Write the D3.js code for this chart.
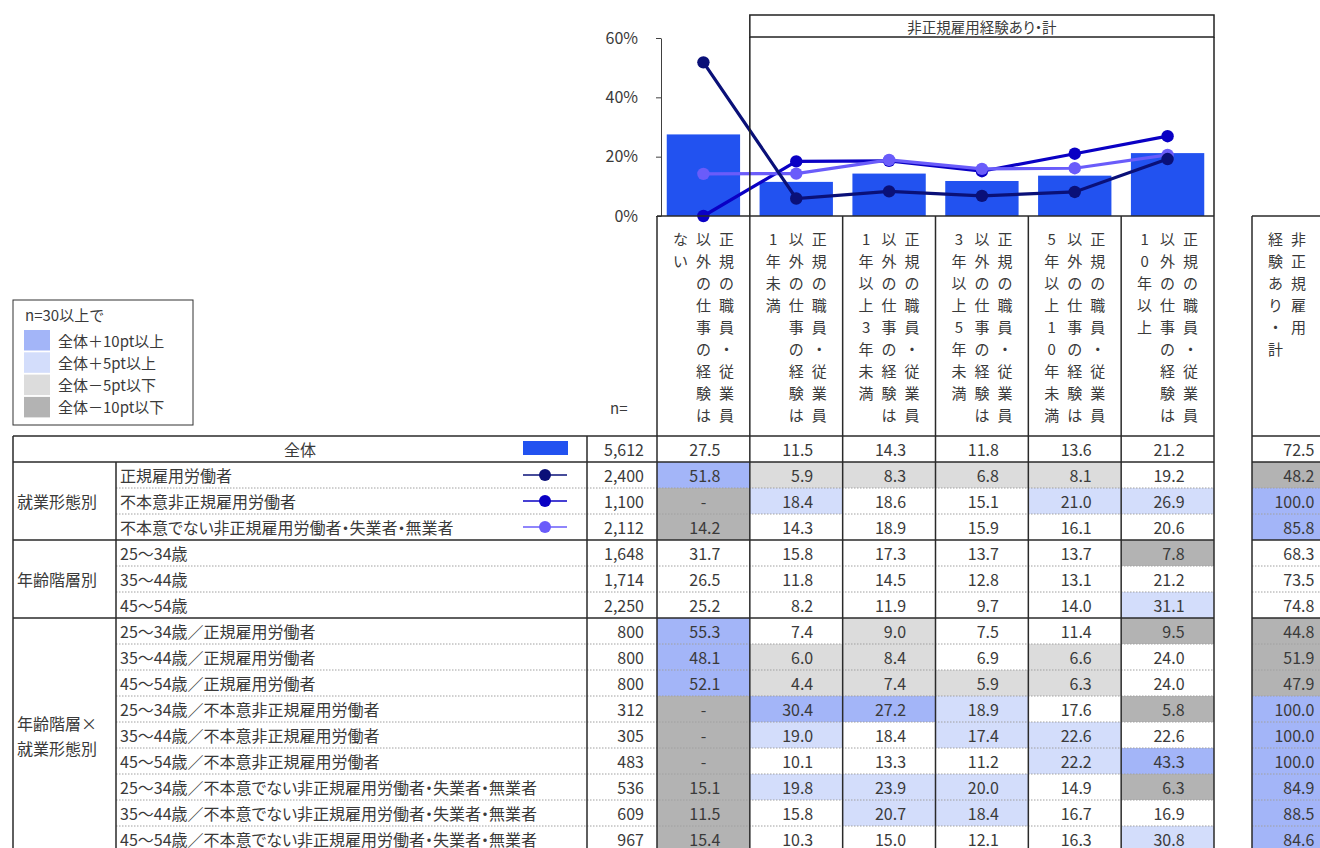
<!DOCTYPE html>
<html>
<head>
<meta charset="utf-8">
<script src="https://cdn.jsdelivr.net/npm/d3@7"></script>
<style>
  body { margin: 0; background: #fff; }
  text { font-family: "Noto Sans CJK JP", "Noto Sans", sans-serif; fill: #3a3a3a; }
  .palt { font-feature-settings: "palt"; }
</style>
</head>
<body>
<div id="chart"></div>
<script>
// column headers, vertical text, columns listed right to left
var colHeaders = [
  ["正規の職員・従業員", "以外の仕事の経験は", "ない"],
  ["正規の職員・従業員", "以外の仕事の経験は", "1年未満"],
  ["正規の職員・従業員", "以外の仕事の経験は", "1年以上3年未満"],
  ["正規の職員・従業員", "以外の仕事の経験は", "3年以上5年未満"],
  ["正規の職員・従業員", "以外の仕事の経験は", "5年以上10年未満"],
  ["正規の職員・従業員", "以外の仕事の経験は", "10年以上"]
];
var totalHeader = ["非正規雇用", "経験あり・計"];
var spanTitle = "非正規雇用経験あり・計";

var groupNames = ["就業形態別", "年齢階層別", "年齢階層×\n就業形態別"];
var groupSizes = [3, 3, 9];

var rowLabels = [
  "全体",
  "正規雇用労働者",
  "不本意非正規雇用労働者",
  "不本意でない非正規雇用労働者・失業者・無業者",
  "25～34歳",
  "35～44歳",
  "45～54歳",
  "25～34歳／正規雇用労働者",
  "35～44歳／正規雇用労働者",
  "45～54歳／正規雇用労働者",
  "25～34歳／不本意非正規雇用労働者",
  "35～44歳／不本意非正規雇用労働者",
  "45～54歳／不本意非正規雇用労働者",
  "25～34歳／不本意でない非正規雇用労働者・失業者・無業者",
  "35～44歳／不本意でない非正規雇用労働者・失業者・無業者",
  "45～54歳／不本意でない非正規雇用労働者・失業者・無業者"
];
var nValues = [5612, 2400, 1100, 2112, 1648, 1714, 2250, 800, 800, 800, 312, 305, 483, 536, 609, 967];

// null = "-"
var values = [
  [27.5, 11.5, 14.3, 11.8, 13.6, 21.2],
  [51.8, 5.9, 8.3, 6.8, 8.1, 19.2],
  [null, 18.4, 18.6, 15.1, 21.0, 26.9],
  [14.2, 14.3, 18.9, 15.9, 16.1, 20.6],
  [31.7, 15.8, 17.3, 13.7, 13.7, 7.8],
  [26.5, 11.8, 14.5, 12.8, 13.1, 21.2],
  [25.2, 8.2, 11.9, 9.7, 14.0, 31.1],
  [55.3, 7.4, 9.0, 7.5, 11.4, 9.5],
  [48.1, 6.0, 8.4, 6.9, 6.6, 24.0],
  [52.1, 4.4, 7.4, 5.9, 6.3, 24.0],
  [null, 30.4, 27.2, 18.9, 17.6, 5.8],
  [null, 19.0, 18.4, 17.4, 22.6, 22.6],
  [null, 10.1, 13.3, 11.2, 22.2, 43.3],
  [15.1, 19.8, 23.9, 20.0, 14.9, 6.3],
  [11.5, 15.8, 20.7, 18.4, 16.7, 16.9],
  [15.4, 10.3, 15.0, 12.1, 16.3, 30.8]
];
var totals = [72.5, 48.2, 100.0, 85.8, 68.3, 73.5, 74.8, 44.8, 51.9, 47.9, 100.0, 100.0, 100.0, 84.9, 88.5, 84.6];

var lineRows = [2, 3, 1];   // drawing order
var lineColors = {1: "#0a1078", 2: "#0a00c4", 3: "#6a5cfa"};
var barColor = "#2252f0";

var tickValues = [0, 20, 40, 60];
var legendTitle = "n=30以上で";
var legendLabels = ["全体＋10pt以上", "全体＋5pt以上", "全体－5pt以下", "全体－10pt以下"];
var shadeColors = ["#a3b5f8", "#d3ddfb", "#dcdcdc", "#b3b3b3"];

var width = 1320, height = 848;
var svg = d3.select("#chart").append("svg")
  .attr("width", width).attr("height", height);

// layout
var tableTop = 436, rowH = 26;
var xLeft = 13, xGroup = 116, xLabel = 587, xN = 657;
var x = d3.scaleBand().domain(d3.range(6)).range([657, 1214]);
var step = x.step();
var xTot = 1252, xTotR = xTot + step;
var y = d3.scaleLinear().domain([0, 60]).range([216, 38]);
var rowY = d3.scaleBand().domain(d3.range(rowLabels.length))
  .range([tableTop, tableTop + rowLabels.length * rowH]);
var pitch = 23;

function shade(v, base) {
  var d = Math.round(((v == null ? 0 : v) - base) * 10) / 10;
  if (d >= 10) return shadeColors[0];
  if (d >= 5) return shadeColors[1];
  if (d <= -10) return shadeColors[3];
  if (d <= -5) return shadeColors[2];
  return null;
}
function fmt(v) { return v == null ? "-" : v.toFixed(1); }

// ---- chart ----
var yAxis = svg.append("g")
  .attr("transform", "translate(661,0)")
  .call(d3.axisLeft(y).tickValues(tickValues).tickSize(5).tickSizeOuter(0).tickPadding(18)
    .tickFormat(function(d) { return d + "%"; }));
yAxis.selectAll("text").style("font-size", "16px").style("fill", "#3a3a3a");
yAxis.selectAll("path, line").attr("stroke", "#404040");

// bars
svg.selectAll(".bar")
  .data(values[0])
  .enter().append("rect")
    .attr("x", function(d, i) { return x(i) + step * 0.105; })
    .attr("width", step * 0.79)
    .attr("y", function(d) { return y(d); })
    .attr("height", function(d) { return y(0) - y(d); })
    .attr("fill", barColor);

// lines
var line = d3.line()
  .x(function(d, i) { return x(i) + step / 2; })
  .y(function(d) { return y(d == null ? 0 : d); });

lineRows.forEach(function(r) {
  svg.append("path")
    .datum(values[r])
    .attr("d", line)
    .attr("fill", "none")
    .attr("stroke", lineColors[r])
    .attr("stroke-width", 3.2);
  svg.selectAll(".dot" + r)
    .data(values[r])
    .enter().append("circle")
      .attr("cx", function(d, i) { return x(i) + step / 2; })
      .attr("cy", function(d) { return y(d == null ? 0 : d); })
      .attr("r", 6.2)
      .attr("fill", lineColors[r]);
});

// span title box
svg.append("rect")
  .attr("x", x(1)).attr("y", 15)
  .attr("width", x(5) + step - x(1)).attr("height", 22)
  .attr("fill", "none").attr("stroke", "#222").attr("stroke-width", 1.5);
svg.append("text")
  .attr("class", "palt")
  .attr("x", (x(1) + x(5) + step) / 2).attr("y", 26)
  .attr("text-anchor", "middle").attr("dominant-baseline", "central")
  .style("font-size", "14.5px")
  .text(spanTitle);
[x(1), x(5) + step].forEach(function(xx) {
  svg.append("line").attr("x1", xx).attr("x2", xx).attr("y1", 37).attr("y2", 216)
    .attr("stroke", "#222").attr("stroke-width", 1.5);
});

// ---- column headers ----
function vertical(cx, cols, rightOffset) {
  cols.forEach(function(str, k) {
    Array.from(str).forEach(function(ch, r) {
      svg.append("text")
        .attr("x", cx + rightOffset - pitch * k)
        .attr("y", 238 + 22 * r)
        .attr("text-anchor", "middle").attr("dominant-baseline", "central")
        .style("font-size", "15px")
        .text(ch);
    });
  });
}
colHeaders.forEach(function(cols, i) { vertical(x(i) + step / 2, cols, pitch); });
vertical(xTot + step / 2, totalHeader, 0);

svg.append("text")
  .attr("x", 610).attr("y", 407)
  .attr("dominant-baseline", "central")
  .style("font-size", "15px")
  .text("n=");

// ---- legend ----
var lg = svg.append("g");
lg.append("rect").attr("x", 13).attr("y", 300).attr("width", 180).attr("height", 125)
  .attr("fill", "#fff").attr("stroke", "#333").attr("stroke-width", 1);
lg.append("text").attr("x", 25).attr("y", 314).attr("dominant-baseline", "central")
  .style("font-size", "15px").text(legendTitle);
legendLabels.forEach(function(t, i) {
  lg.append("rect").attr("x", 24).attr("y", 330 + i * 22.3).attr("width", 26).attr("height", 20.5)
    .attr("fill", shadeColors[i]);
  lg.append("text").attr("x", 58).attr("y", 340 + i * 22.3).attr("dominant-baseline", "central")
    .style("font-size", "15px").text(t);
});

// ---- table ----
var cols = d3.range(6);

// cell shading
rowLabels.forEach(function(lbl, r) {
  if (r === 0) return;
  cols.forEach(function(c) {
    var col = shade(values[r][c], values[0][c]);
    if (col) svg.append("rect").attr("x", x(c)).attr("y", rowY(r))
      .attr("width", step).attr("height", rowH).attr("fill", col);
  });
  var ct = shade(totals[r], totals[0]);
  if (ct) svg.append("rect").attr("x", xTot).attr("y", rowY(r))
    .attr("width", step).attr("height", rowH).attr("fill", ct);
});

// row texts
rowLabels.forEach(function(lbl, r) {
  var cy = rowY(r) + rowH / 2;
  if (r === 0) {
    svg.append("text").attr("x", (xLeft + xLabel) / 2).attr("y", cy)
      .attr("text-anchor", "middle").attr("dominant-baseline", "central")
      .style("font-size", "16px").text(lbl);
    svg.append("rect").attr("x", 523).attr("y", rowY(r) + 5).attr("width", 45).attr("height", 14)
      .attr("fill", barColor);
  } else {
    svg.append("text").attr("class", "palt").attr("x", 120).attr("y", cy)
      .attr("dominant-baseline", "central")
      .style("font-size", "16px").text(lbl);
  }
  if (lineColors[r]) {
    svg.append("line").attr("x1", 523).attr("x2", 567).attr("y1", cy).attr("y2", cy)
      .attr("stroke", lineColors[r]).attr("stroke-width", 1.5);
    svg.append("circle").attr("cx", 545).attr("cy", cy).attr("r", 6)
      .attr("fill", lineColors[r]);
  }
  svg.append("text").attr("x", 644).attr("y", cy)
    .attr("text-anchor", "end").attr("dominant-baseline", "central")
    .style("font-size", "16px").text(d3.format(",")(nValues[r]));
  cols.forEach(function(c) {
    var v = values[r][c];
    svg.append("text")
      .attr("x", v == null ? x(c) + step / 2 : x(c) + step / 2 + 17)
      .attr("y", cy)
      .attr("text-anchor", v == null ? "middle" : "end")
      .attr("dominant-baseline", "central")
      .style("font-size", "16px").text(fmt(v));
  });
  svg.append("text").attr("x", xTot + step / 2 + 16).attr("y", cy)
    .attr("text-anchor", "end").attr("dominant-baseline", "central")
    .style("font-size", "16px").text(fmt(totals[r]));
});

// group labels
var start = 1;
groupNames.forEach(function(g, gi) {
  var top = rowY(start), bottom = top + groupSizes[gi] * rowH;
  var lines = g.split("\n");
  lines.forEach(function(t, li) {
    svg.append("text").attr("x", 17)
      .attr("y", (top + bottom) / 2 + (li - (lines.length - 1) / 2) * 25)
      .attr("dominant-baseline", "central")
      .style("font-size", "16px").text(t);
  });
  start += groupSizes[gi];
});

// grid lines
var solid = "#2a2a2a";
function hline(y0, x1, x2, dotted) {
  svg.append("line").attr("x1", x1).attr("x2", x2).attr("y1", y0).attr("y2", y0)
    .attr("stroke", dotted ? "#a0a0a0" : solid)
    .attr("stroke-width", dotted ? 1 : 1.5)
    .attr("stroke-dasharray", dotted ? "1.5,1.5" : null);
}
function vline(x0, y1, y2) {
  svg.append("line").attr("x1", x0).attr("x2", x0).attr("y1", y1).attr("y2", y2)
    .attr("stroke", solid).attr("stroke-width", 1.5);
}

var groupEnds = [1];
groupSizes.forEach(function(s) { groupEnds.push(groupEnds[groupEnds.length - 1] + s); });
rowLabels.forEach(function(lbl, r) {
  if (r === 0) return;
  var yy = rowY(r);
  if (groupEnds.indexOf(r) >= 0) {
    hline(yy, xLeft, x(5) + step); hline(yy, xTot, xTotR);
  } else {
    hline(yy, xGroup, x(5) + step, true); hline(yy, xTot, xTotR, true);
  }
});
hline(216, xN, x(5) + step); hline(216, xTot, xTotR);
hline(tableTop, xLeft, x(5) + step); hline(tableTop, xTot, xTotR);

vline(xLeft, tableTop, height);
vline(xGroup, rowY(1), height);
vline(xLabel, tableTop, height);
cols.forEach(function(c) { vline(x(c), 216, height); });
vline(x(5) + step, 216, height);
vline(xTot, 216, height);
vline(xTotR, 216, height);
</script>
</body>
</html>
